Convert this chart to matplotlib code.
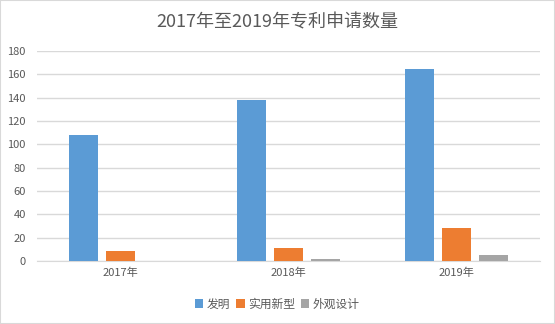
import matplotlib.pyplot as plt
import numpy as np
from matplotlib.patches import Rectangle

plt.rcParams['font.family'] = ['Noto Sans CJK SC', 'DejaVu Sans']

years = ["2017年", "2018年", "2019年"]
invention = [108, 138, 165]
utility = [9, 11, 28]
design = [0, 2, 5]
series_names = ["发明", "实用新型", "外观设计"]
colors = ["#5B9BD5", "#ED7D31", "#A5A5A5"]

fig = plt.figure(figsize=(5.55, 3.24), dpi=100)
ax = fig.add_axes([37 / 555, 1 - 261 / 324, (540 - 37) / 555, 210 / 324])

x = np.arange(len(years))
w = 0.173
step = 0.22
for i, (vals, name, c) in enumerate(zip([invention, utility, design], series_names, colors)):
    ax.bar(x + (i - 1) * step, vals, w, color=c, label=name, zorder=3)

ax.set_xlim(-0.5, 2.5)
ax.set_ylim(0, 180)
ax.set_yticks(range(0, 181, 20))
ax.set_xticks(x)
ax.set_xticklabels(years)
ax.grid(axis="y", color="#D9D9D9", linewidth=1, zorder=0)
for s in ["top", "right", "left"]:
    ax.spines[s].set_visible(False)
ax.spines["bottom"].set_color("#D9D9D9")
ax.tick_params(axis="both", length=0, colors="#595959", labelsize=8)
ax.tick_params(axis="y", pad=8)
ax.tick_params(axis="x", pad=5)

fig.suptitle("2017年至2019年专利申请数量", y=1 - 22 / 324, va="center",
             fontsize=13, color="#595959")

fig.legend(loc="center", bbox_to_anchor=(0.5, 1 - 304 / 324), ncol=3, frameon=False,
           fontsize=8.5, labelcolor="#595959", handlelength=0.7, handleheight=0.7,
           handletextpad=0.3, columnspacing=0.5)

fig.patches.append(Rectangle((0, 0), 1, 1, transform=fig.transFigure, fill=False,
                             edgecolor="#D9D9D9", linewidth=1.5))

fig.savefig("out.png", dpi=100)
